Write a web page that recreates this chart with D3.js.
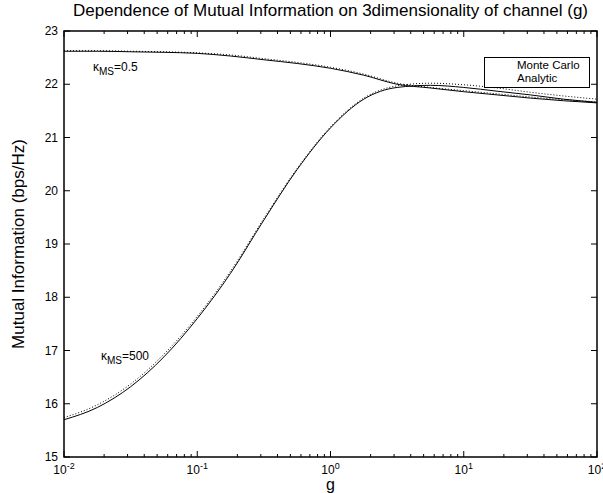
<!DOCTYPE html>
<html>
<head>
<meta charset="utf-8">
<script src="https://cdn.jsdelivr.net/npm/d3@7"></script>
<style>
  body { margin: 0; background: #fff; }
  svg { display: block; font-family: "Liberation Sans", Arial, sans-serif; }
</style>
</head>
<body>
<div id="chart"></div>
<script>
// log10(g) sample points
const logG = [-2, -1.75, -1.5, -1.25, -1, -0.75, -0.5, -0.25, 0, 0.25, 0.5, 0.75, 1, 1.25, 1.5, 1.75, 2];

// kappa_MS = 500
const k500Analytic = [15.70, 15.93, 16.32, 16.88, 17.60, 18.45, 19.45, 20.40, 21.18, 21.72, 21.94, 21.98, 21.94, 21.87, 21.80, 21.72, 21.66];
const k500MonteCarlo = [15.74, 15.98, 16.37, 16.93, 17.64, 18.49, 19.48, 20.42, 21.20, 21.74, 21.97, 22.02, 21.99, 21.93, 21.85, 21.78, 21.72];

// kappa_MS = 0.5
const k05Analytic = [22.62, 22.62, 22.61, 22.60, 22.58, 22.53, 22.46, 22.39, 22.30, 22.17, 22.00, 21.93, 21.86, 21.80, 21.74, 21.69, 21.65];
const k05MonteCarlo = [22.63, 22.63, 22.62, 22.61, 22.59, 22.55, 22.48, 22.41, 22.32, 22.19, 22.02, 21.94, 21.88, 21.82, 21.76, 21.71, 21.67];

const yTicks = [15, 16, 17, 18, 19, 20, 21, 22, 23];
const xTicks = [0.01, 0.1, 1, 10, 100];
const xTickExp = ["-2", "-1", "0", "1", "2"];

const width = 603, height = 493;
const margin = { left: 64, right: 6, top: 31, bottom: 36 };
const plotW = width - margin.left - margin.right;
const plotH = height - margin.top - margin.bottom;

const svg = d3.select("#chart").append("svg")
    .attr("width", width)
    .attr("height", height);

const x = d3.scaleLog().domain([0.01, 100]).range([0, plotW]);
const y = d3.scaleLinear().domain([15, 23]).range([plotH, 0]);

const g = svg.append("g")
    .attr("transform", `translate(${margin.left},${margin.top})`);

// title
svg.append("text")
    .attr("x", margin.left + plotW / 2)
    .attr("y", 16)
    .attr("text-anchor", "middle")
    .attr("font-size", 17)
    .text("Dependence of Mutual Information on 3dimensionality of channel (g)");

// curves
const line = d3.line()
    .x((d, i) => x(Math.pow(10, logG[i])))
    .y(d => y(d))
    .curve(d3.curveMonotoneX);

const series = [
    { values: k500MonteCarlo, dash: "1,2" },
    { values: k05MonteCarlo, dash: "1,2" },
    { values: k500Analytic, dash: null },
    { values: k05Analytic, dash: null }
];

g.selectAll("path.curve")
    .data(series)
    .join("path")
    .attr("class", "curve")
    .attr("fill", "none")
    .attr("stroke", "#000")
    .attr("stroke-width", 1)
    .attr("stroke-dasharray", d => d.dash)
    .attr("d", d => line(d.values));

// box
g.append("rect")
    .attr("width", plotW)
    .attr("height", plotH)
    .attr("fill", "none")
    .attr("stroke", "#000")
    .attr("stroke-width", 1.5);

// x ticks (major + minor) on bottom and top, pointing inward
const minor = [];
for (let e = -2; e < 2; e++) {
    for (let m = 2; m <= 9; m++) minor.push(m * Math.pow(10, e));
}
const tickG = g.append("g").attr("stroke", "#000").attr("stroke-width", 1);
xTicks.forEach(t => {
    tickG.append("line").attr("x1", x(t)).attr("x2", x(t)).attr("y1", plotH).attr("y2", plotH - 6);
    tickG.append("line").attr("x1", x(t)).attr("x2", x(t)).attr("y1", 0).attr("y2", 6);
});
minor.forEach(t => {
    tickG.append("line").attr("x1", x(t)).attr("x2", x(t)).attr("y1", plotH).attr("y2", plotH - 3);
    tickG.append("line").attr("x1", x(t)).attr("x2", x(t)).attr("y1", 0).attr("y2", 3);
});
yTicks.forEach(t => {
    tickG.append("line").attr("x1", 0).attr("x2", 6).attr("y1", y(t)).attr("y2", y(t));
    tickG.append("line").attr("x1", plotW).attr("x2", plotW - 6).attr("y1", y(t)).attr("y2", y(t));
});

// tick labels
g.selectAll("text.ytl")
    .data(yTicks)
    .join("text")
    .attr("class", "ytl")
    .attr("x", -6)
    .attr("y", d => y(d))
    .attr("dy", "0.35em")
    .attr("text-anchor", "end")
    .attr("font-size", 12)
    .text(d => d);

const xl = g.selectAll("text.xtl")
    .data(xTicks)
    .join("text")
    .attr("class", "xtl")
    .attr("x", d => x(d))
    .attr("y", plotH + 17)
    .attr("text-anchor", "middle")
    .attr("font-size", 12);
xl.append("tspan").text("10");
xl.append("tspan")
    .attr("dy", -5)
    .attr("font-size", 9)
    .text((d, i) => xTickExp[i]);

// axis labels
svg.append("text")
    .attr("x", margin.left + plotW / 2)
    .attr("y", 490)
    .attr("text-anchor", "middle")
    .attr("font-size", 16)
    .text("g");

svg.append("text")
    .attr("transform", `translate(24,${margin.top + plotH / 2}) rotate(-90)`)
    .attr("text-anchor", "middle")
    .attr("font-size", 17)
    .text("Mutual Information (bps/Hz)");

// curve annotations
function kappaLabel(px, py, val) {
    const t = svg.append("text")
        .attr("x", px)
        .attr("y", py)
        .attr("font-size", 12);
    t.append("tspan").text("\u03BA");
    t.append("tspan").attr("dy", 4).attr("font-size", 10).text("MS");
    t.append("tspan").attr("dy", -4).text("=" + val);
}
kappaLabel(93, 71, "0.5");
kappaLabel(101, 360, "500");

// legend
const leg = svg.append("g");
leg.append("rect")
    .attr("x", 484.5)
    .attr("y", 57.5)
    .attr("width", 105)
    .attr("height", 30)
    .attr("fill", "#fff")
    .attr("stroke", "#000")
    .attr("stroke-width", 1);
leg.selectAll("text")
    .data(["Monte Carlo", "Analytic"])
    .join("text")
    .attr("x", 517)
    .attr("y", (d, i) => 69 + i * 13)
    .attr("font-size", 11.5)
    .text(d => d);
</script>
</body>
</html>
